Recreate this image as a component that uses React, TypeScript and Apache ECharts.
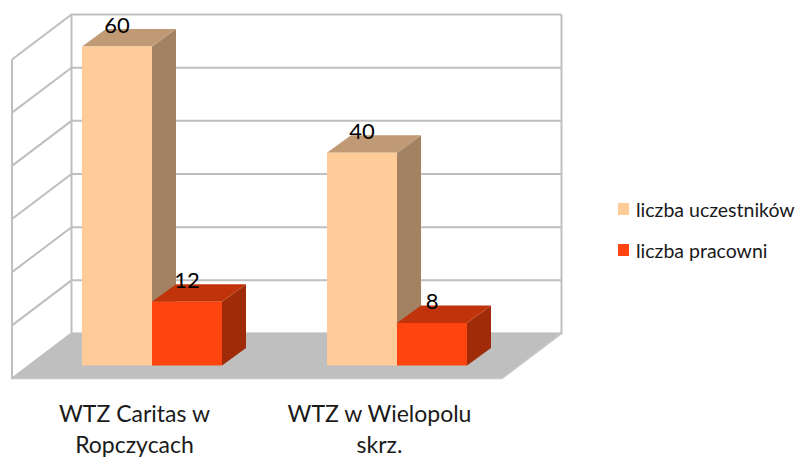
import React, { useEffect, useRef } from "react";
import * as echarts from "echarts";

const categories = ["WTZ Caritas w\nRopczycach", "WTZ w Wielopolu\nskrz."];
const seriesNames = ["liczba uczestników", "liczba pracowni"];
const uczestnicy = [60, 40];
const pracownie = [12, 8];
const wallTicks = [0, 10, 20, 30, 40, 50, 60];

const FONT = "Lato, 'Open Sans', sans-serif";
const GRID_COLOR = "#bfbfbf";
const BACK_DX = 59.5;
const BACK_DY = -45;
const BAR_DX = 17.5;
const BAR_DY = -13;
const BAR_W = 70;
const BOX_DX = 24;
const BOX_DY = -17.5;

const wallItem = (params: any, api: any) => {
  const cs = params.coordSys;
  const y = api.coord([0, api.value(1)])[1];
  const x0 = cs.x;
  const x1 = cs.x + cs.width;
  const lineStyle = { stroke: GRID_COLOR, lineWidth: 2, fill: "none" };
  const children: any[] = [
    {
      type: "polyline",
      shape: {
        points: [
          [x0, y],
          [x0 + BACK_DX, y + BACK_DY],
          [x1 + BACK_DX, y + BACK_DY],
        ],
      },
      style: lineStyle,
    },
  ];
  if (params.dataIndex === 0) {
    const top = cs.y;
    children.unshift(
      {
        type: "polygon",
        shape: {
          points: [
            [x0, y],
            [x0 + BACK_DX, y + BACK_DY],
            [x1 + BACK_DX, y + BACK_DY],
            [x1, y],
          ],
        },
        style: { fill: "#bfbfbf", stroke: "#c8c8c8", lineWidth: 1.5 },
      },
      { type: "line", shape: { x1: x0, y1: top, x2: x0, y2: y }, style: lineStyle },
      { type: "line", shape: { x1: x0 + BACK_DX, y1: top + BACK_DY, x2: x0 + BACK_DX, y2: y + BACK_DY }, style: lineStyle },
      { type: "line", shape: { x1: x1 + BACK_DX, y1: top + BACK_DY, x2: x1 + BACK_DX, y2: y + BACK_DY }, style: lineStyle }
    );
  }
  return { type: "group", children };
};

const barItem = (front: string, topC: string, side: string, slot: number) => (params: any, api: any) => {
  const value = api.value(1);
  const top = api.coord([api.value(0), value]);
  const base = api.coord([api.value(0), 0]);
  const left = top[0] + BAR_DX + (slot === 0 ? -BAR_W : 0);
  const right = left + BAR_W;
  const yT = top[1] + BAR_DY;
  const yB = base[1] + BAR_DY;
  return {
    type: "group",
    children: [
      {
        type: "polygon",
        shape: { points: [[right, yT], [right + BOX_DX, yT + BOX_DY], [right + BOX_DX, yB + BOX_DY], [right, yB]] },
        style: { fill: side },
      },
      {
        type: "polygon",
        shape: { points: [[left, yT], [left + BOX_DX, yT + BOX_DY], [right + BOX_DX, yT + BOX_DY], [right, yT]] },
        style: { fill: topC },
      },
      { type: "rect", shape: { x: left, y: yT, width: BAR_W, height: yB - yT }, style: { fill: front } },
      {
        type: "text",
        x: left + BAR_W / 2,
        y: yT - 22.5,
        style: { text: String(value), fill: "#000", font: `22px ${FONT}`, align: "center", verticalAlign: "middle" },
      },
    ],
  };
};

export default function App() {
  const ref = useRef<HTMLDivElement>(null);
  useEffect(() => {
    const chart = echarts.init(ref.current!, undefined, { renderer: "svg" });
    chart.setOption({
      animation: false,
      backgroundColor: "#fff",
      grid: { left: 12, top: 59.5, width: 490, height: 319, outerBoundsMode: "none" },
      xAxis: {
        type: "category",
        data: categories,
        axisLine: { show: false },
        axisTick: { show: false },
        axisLabel: {
          color: "#1a1a1a",
          fontFamily: FONT,
          fontSize: 23,
          lineHeight: 31,
          margin: 19,
          interval: 0,
        },
      },
      yAxis: { type: "value", min: 0, max: 60, interval: 10, show: false },
      legend: {
        data: seriesNames,
        orient: "vertical",
        left: 618,
        top: 199,
        padding: 0,
        itemWidth: 11,
        itemHeight: 12,
        itemGap: 21,
        icon: "rect",
        textStyle: { fontFamily: FONT, fontSize: 19.5, color: "#1a1a1a", padding: [0, 0, 0, 2] },
        selectedMode: false,
      },
      series: [
        {
          type: "custom",
          name: "ściany",
          silent: true,
          renderItem: wallItem,
          data: wallTicks.map((v) => [0, v]),
          encode: { x: 0, y: 1 },
        },
        {
          type: "custom",
          name: seriesNames[0],
          renderItem: barItem("#FFCC99", "#C09A74", "#A38163", 0),
          itemStyle: { color: "#FFCC99" },
          data: uczestnicy.map((v, i) => [i, v]),
          encode: { x: 0, y: 1 },
        },
        {
          type: "custom",
          name: seriesNames[1],
          renderItem: barItem("#FF450F", "#C1340B", "#9F2B08", 1),
          itemStyle: { color: "#FF450F" },
          data: pracownie.map((v, i) => [i, v]),
          encode: { x: 0, y: 1 },
        },
      ],
    });
    return () => chart.dispose();
  }, []);
  return <div ref={ref} style={{ position: "absolute", left: 0, top: 0, width: 795, height: 457 }} />;
}
